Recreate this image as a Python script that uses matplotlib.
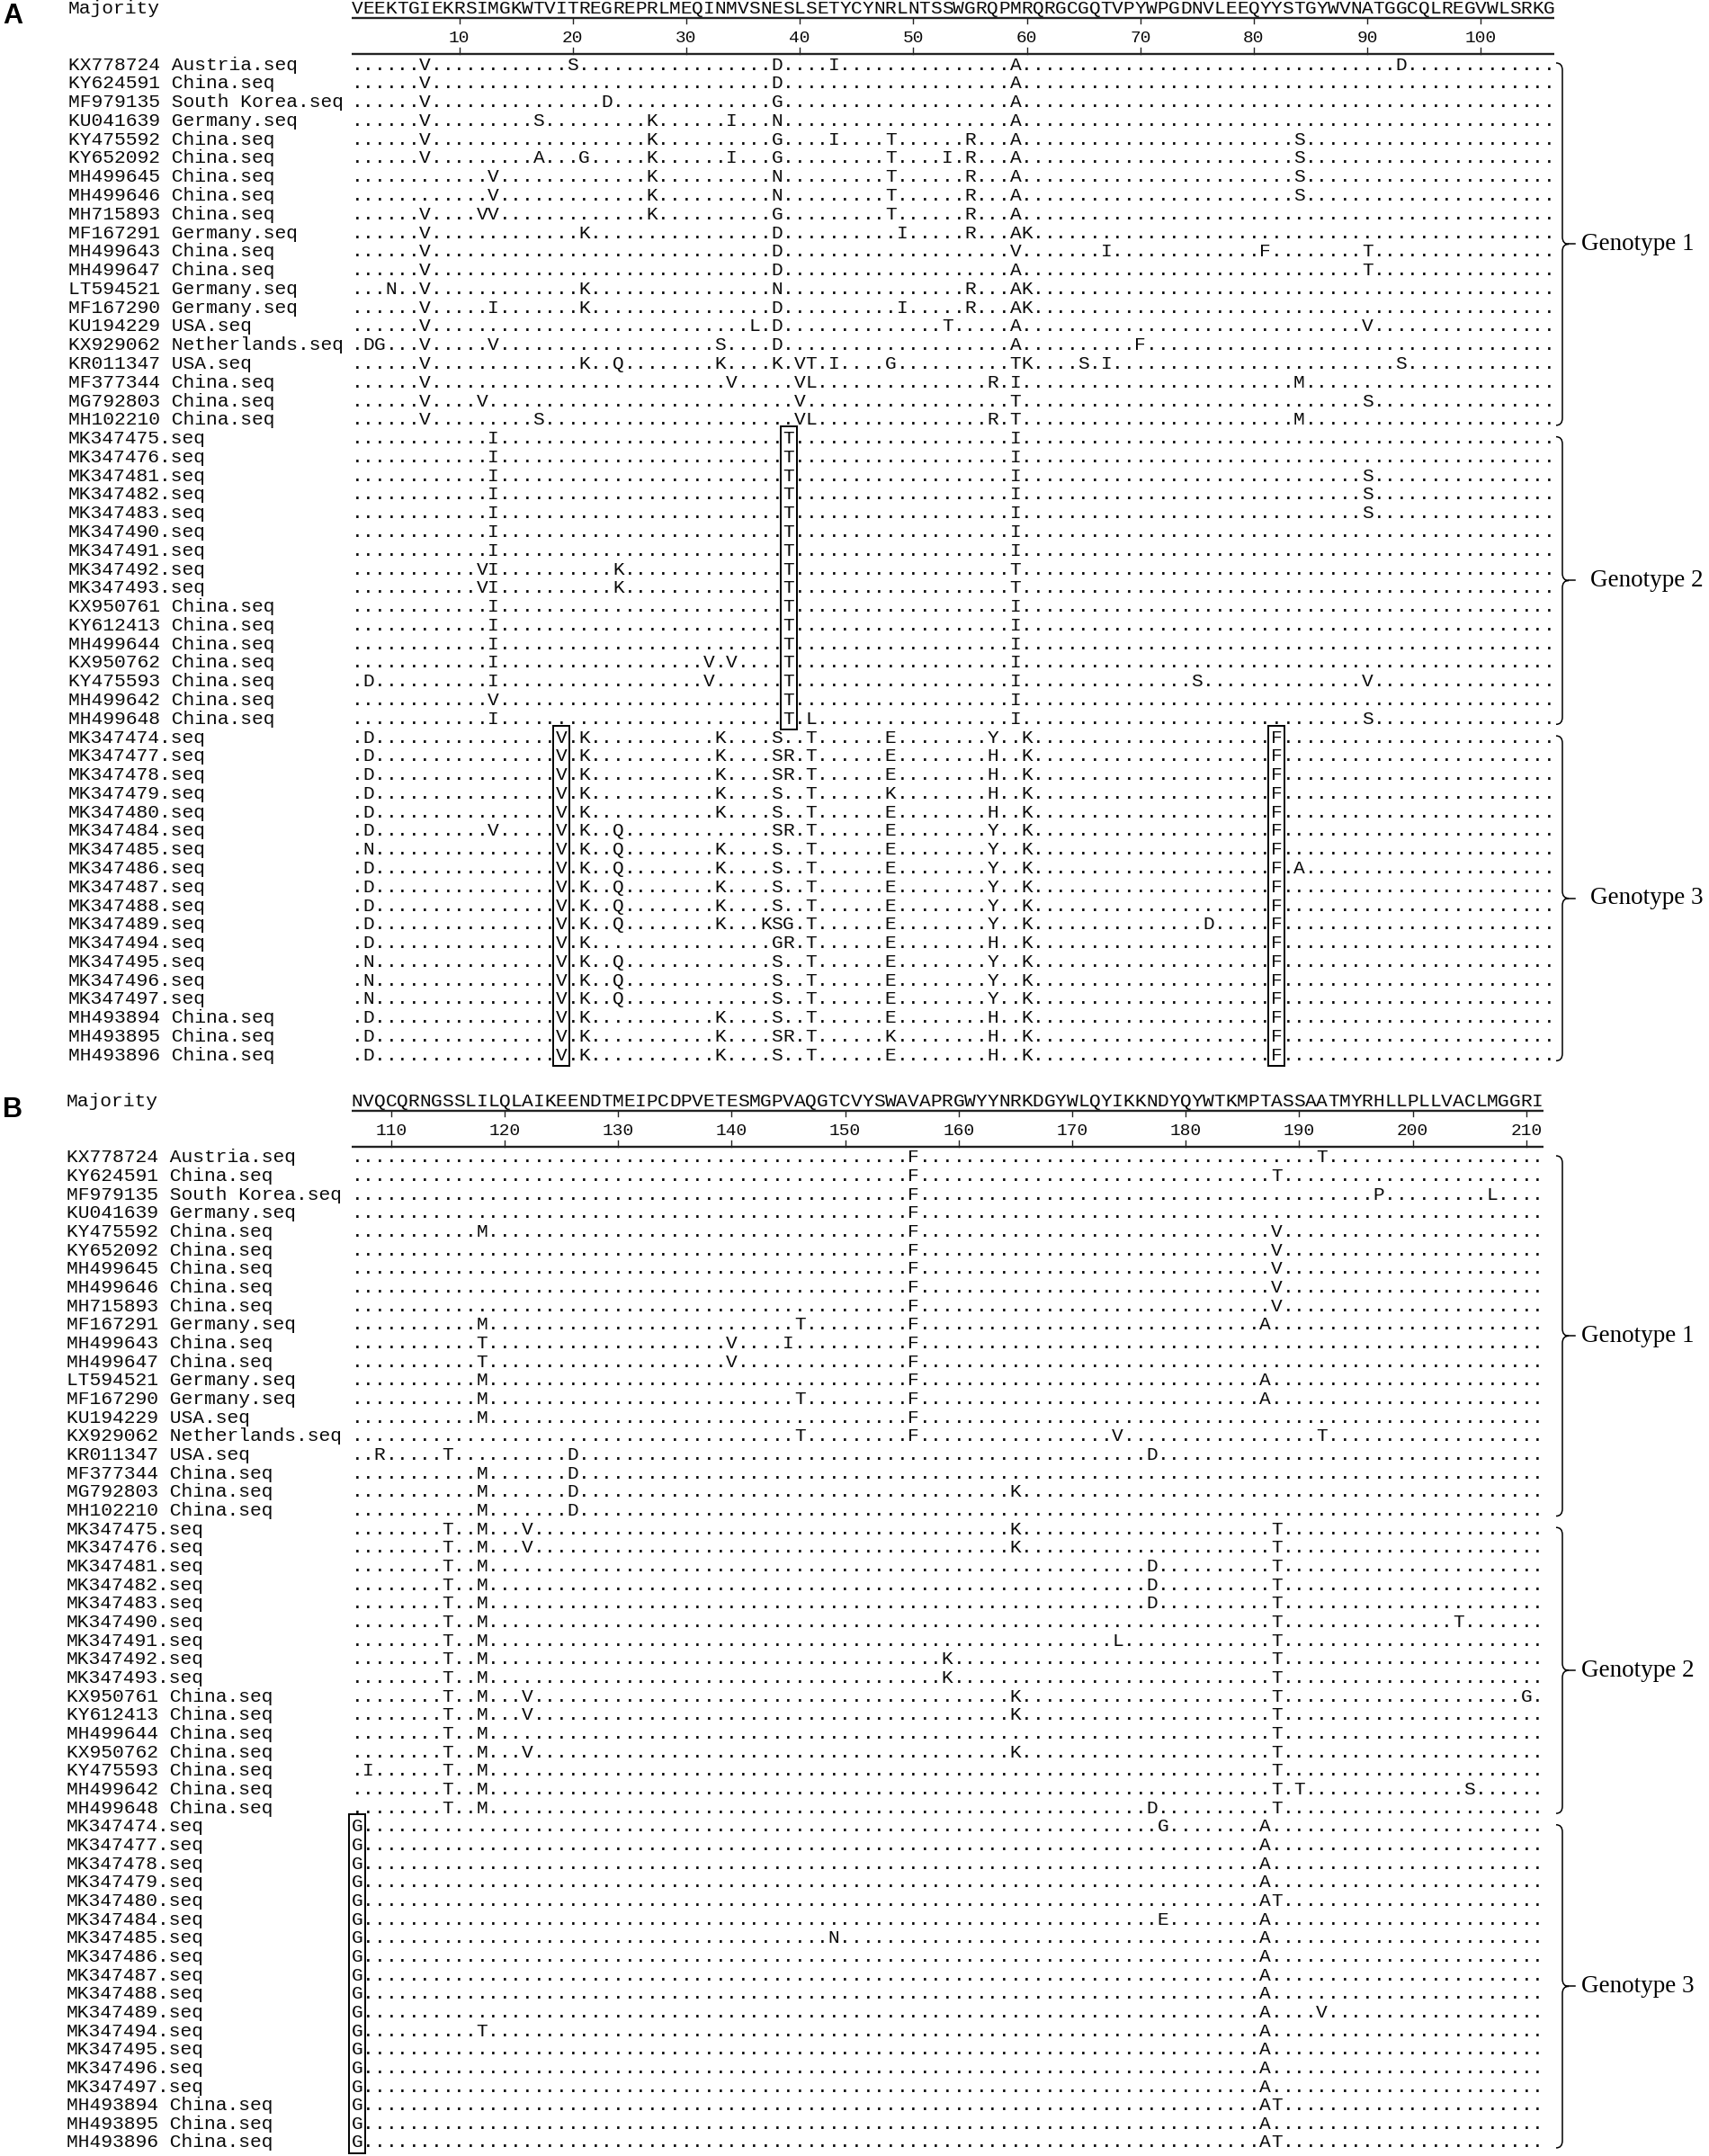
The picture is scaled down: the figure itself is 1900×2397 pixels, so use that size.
import matplotlib
matplotlib.use('Agg')
import matplotlib.pyplot as plt
from matplotlib.path import Path
from matplotlib.patches import PathPatch, Rectangle

# ---------------- data ----------------
names = [
    "KX778724 Austria.seq", "KY624591 China.seq", "MF979135 South Korea.seq",
    "KU041639 Germany.seq", "KY475592 China.seq", "KY652092 China.seq",
    "MH499645 China.seq", "MH499646 China.seq", "MH715893 China.seq",
    "MF167291 Germany.seq", "MH499643 China.seq", "MH499647 China.seq",
    "LT594521 Germany.seq", "MF167290 Germany.seq", "KU194229 USA.seq",
    "KX929062 Netherlands.seq", "KR011347 USA.seq", "MF377344 China.seq",
    "MG792803 China.seq", "MH102210 China.seq",
    "MK347475.seq", "MK347476.seq", "MK347481.seq", "MK347482.seq",
    "MK347483.seq", "MK347490.seq", "MK347491.seq", "MK347492.seq",
    "MK347493.seq", "KX950761 China.seq", "KY612413 China.seq",
    "MH499644 China.seq", "KX950762 China.seq", "KY475593 China.seq",
    "MH499642 China.seq", "MH499648 China.seq",
    "MK347474.seq", "MK347477.seq", "MK347478.seq", "MK347479.seq",
    "MK347480.seq", "MK347484.seq", "MK347485.seq", "MK347486.seq",
    "MK347487.seq", "MK347488.seq", "MK347489.seq", "MK347494.seq",
    "MK347495.seq", "MK347496.seq", "MK347497.seq",
    "MH493894 China.seq", "MH493895 China.seq", "MH493896 China.seq",
]
genotype_sizes = [20, 16, 18]
genotype_labels = ["Genotype 1", "Genotype 2", "Genotype 3"]

# panel A: residues 1-106
majority_a = ("VEEKTGIEKRSIMGKWTVITREGREPRLMEQINMVSNESLSETYCYNRLNTSSWGRQPMR"
              "QRGCGQTVPYWPGDNVLEEQYYSTGYWVNATGGCQLREGVWLSRKG")
start_a = 1
ticks_a = [10, 20, 30, 40, 50, 60, 70, 80, 90, 100]
# differences from majority: "<position><residue>"
var_a = [
    "7V 20S 38D 43I 59A 93D",
    "7V 38D 59A",
    "7V 23D 38G 59A",
    "7V 17S 27K 34I 38N 59A",
    "7V 27K 38G 43I 48T 55R 59A 84S",
    "7V 17A 21G 27K 34I 38G 48T 53I 55R 59A 84S",
    "13V 27K 38N 48T 55R 59A 84S",
    "13V 27K 38N 48T 55R 59A 84S",
    "7V 12V 13V 27K 38G 48T 55R 59A",
    "7V 21K 38D 49I 55R 59A 60K",
    "7V 38D 59V 67I 81F 90T",
    "7V 38D 59A 90T",
    "4N 7V 21K 38N 55R 59A 60K",
    "7V 13I 21K 38D 49I 55R 59A 60K",
    "7V 36L 38D 53T 59A 90V",
    "2D 3G 7V 13V 33S 38D 59A 70F",
    "7V 21K 24Q 33K 38K 40V 41T 43I 48G 59T 60K 65S 67I 93S",
    "7V 34V 40V 41L 57R 59I 84M",
    "7V 12V 40V 59T 90S",
    "7V 17S 40V 41L 57R 59T 84M",
    "13I 39T 59I",
    "13I 39T 59I",
    "13I 39T 59I 90S",
    "13I 39T 59I 90S",
    "13I 39T 59I 90S",
    "13I 39T 59I",
    "13I 39T 59I",
    "12V 13I 24K 39T 59T",
    "12V 13I 24K 39T 59T",
    "13I 39T 59I",
    "13I 39T 59I",
    "13I 39T 59I",
    "13I 32V 34V 39T 59I",
    "2D 13I 32V 39T 59I 75S 90V",
    "13V 39T 59I",
    "13I 39T 41L 59I 90S",
    "2D 19V 21K 33K 38S 41T 48E 57Y 60K 82F",
    "2D 19V 21K 33K 38S 39R 41T 48E 57H 60K 82F",
    "2D 19V 21K 33K 38S 39R 41T 48E 57H 60K 82F",
    "2D 19V 21K 33K 38S 41T 48K 57H 60K 82F",
    "2D 19V 21K 33K 38S 41T 48E 57H 60K 82F",
    "2D 13V 19V 21K 24Q 38S 39R 41T 48E 57Y 60K 82F",
    "2N 19V 21K 24Q 33K 38S 41T 48E 57Y 60K 82F",
    "2D 19V 21K 24Q 33K 38S 41T 48E 57Y 60K 82F 84A",
    "2D 19V 21K 24Q 33K 38S 41T 48E 57Y 60K 82F",
    "2D 19V 21K 24Q 33K 38S 41T 48E 57Y 60K 82F",
    "2D 19V 21K 24Q 33K 37K 38S 39G 41T 48E 57Y 60K 76D 82F",
    "2D 19V 21K 38G 39R 41T 48E 57H 60K 82F",
    "2N 19V 21K 24Q 38S 41T 48E 57Y 60K 82F",
    "2N 19V 21K 24Q 38S 41T 48E 57Y 60K 82F",
    "2N 19V 21K 24Q 38S 41T 48E 57Y 60K 82F",
    "2D 19V 21K 33K 38S 41T 48E 57H 60K 82F",
    "2D 19V 21K 33K 38S 39R 41T 48K 57H 60K 82F",
    "2D 19V 21K 33K 38S 41T 48E 57H 60K 82F",
]
boxes_a = [(39, 1), (19, 2), (82, 2)]  # (position, genotype index)

# panel B: residues 107-211
majority_b = ("NVQCQRNGSSLILQLAIKEENDTMEIPCDPVETESMGPVAQGTCVYSWAVAPRGWYYNRK"
              "DGYWLQYIKKNDYQYWTKMPTASSAATMYRHLLPLLVACLMGGRI")
start_b = 107
ticks_b = [110, 120, 130, 140, 150, 160, 170, 180, 190, 200, 210]
var_b = [
    "156F 192T",
    "156F 188T",
    "156F 197P 207L",
    "156F",
    "118M 156F 188V",
    "156F 188V",
    "156F 188V",
    "156F 188V",
    "156F 188V",
    "118M 146T 156F 187A",
    "118T 140V 145I 156F",
    "118T 140V 156F",
    "118M 156F 187A",
    "118M 146T 156F 187A",
    "118M 156F",
    "146T 156F 174V 192T",
    "109R 115T 126D 177D",
    "118M 126D",
    "118M 126D 165K",
    "118M 126D",
    "115T 118M 122V 165K 188T",
    "115T 118M 122V 165K 188T",
    "115T 118M 177D 188T",
    "115T 118M 177D 188T",
    "115T 118M 177D 188T",
    "115T 118M 188T 204T",
    "115T 118M 174L 188T",
    "115T 118M 159K 188T",
    "115T 118M 159K 188T",
    "115T 118M 122V 165K 188T 210G",
    "115T 118M 122V 165K 188T",
    "115T 118M 188T",
    "115T 118M 122V 165K 188T",
    "108I 115T 118M 188T",
    "115T 118M 188T 190T 205S",
    "115T 118M 177D 188T",
    "107G 178G 187A",
    "107G 187A",
    "107G 187A",
    "107G 187A",
    "107G 187A 188T",
    "107G 178E 187A",
    "107G 149N 187A",
    "107G 187A",
    "107G 187A",
    "107G 187A",
    "107G 187A 192V",
    "107G 118T 187A",
    "107G 187A",
    "107G 187A",
    "107G 187A",
    "107G 187A 188T",
    "107G 187A",
    "107G 187A 188T",
]
boxes_b = [(107, 2)]

# ---------------- layout ----------------
W, H = 1900, 2397
MONO = "Liberation Mono"
FS = 15.3
INK = "#0a0a0a"
COL0 = 397.0      # centre of first alignment column (px)
PITCH = 12.62     # px per residue
BRACE_X = 1737


def expand(var, n, start):
    row = ["."] * n
    for tok in var.split():
        row[int(tok[:-1]) - start] = tok[-1]
    return row


def col_x(i):
    return COL0 + i * PITCH


def put_chars(ax, chars, yc, **kw):
    for i, ch in enumerate(chars):
        ax.text(col_x(i), yc + 5.5, ch, ha="center", va="baseline",
                family=MONO, fontsize=FS, color=INK, **kw)


def brace(ax, x, y0, y1, w=7, r=8, dash=7):
    ym = (y0 + y1) / 2
    verts = [(x - w, y0), (x, y0), (x, y0 + r), (x, ym - r), (x, ym), (x + w, ym),
             (x, ym), (x, ym + r), (x, y1 - r), (x, y1), (x - w, y1)]
    codes = [Path.MOVETO, Path.CURVE3, Path.CURVE3, Path.LINETO, Path.CURVE3, Path.CURVE3,
             Path.CURVE3, Path.CURVE3, Path.LINETO, Path.CURVE3, Path.CURVE3]
    ax.add_patch(PathPatch(Path(verts, codes), fill=False, lw=1.1, color="black"))
    ax.plot([x + w, x + w + dash], [ym, ym], color="black", lw=1.1)
    return ym


def draw_panel(ax, letter, top, row_pitch, majority, start, ticks, variants,
               boxes, name_x, label_x):
    n = len(majority)
    ax.text(3, top + 9, letter, ha="left", va="center", family="Liberation Sans",
            weight="bold", fontsize=22, color="black")
    ax.text(name_x, top + 5.5, "Majority", ha="left", va="baseline",
            family=MONO, fontsize=FS, color=INK)
    put_chars(ax, majority, top)

    # ruler
    x_l, x_r = col_x(0) - PITCH / 2, col_x(n - 1) + PITCH / 2
    y_t, y_b = top + 10, top + 50
    ax.plot([x_l, x_r], [y_t, y_t], color="#222222", lw=1.7, solid_capstyle="butt")
    ax.plot([x_l, x_r], [y_b, y_b], color="#222222", lw=1.7, solid_capstyle="butt")
    for t in ticks:
        x = col_x(t - start)
        ax.plot([x, x], [y_t, y_t + 6], color="#222222", lw=1.0)
        ax.plot([x, x], [y_b - 7, y_b], color="#222222", lw=1.0)
        ax.text(x, top + 33, str(t), ha="center", va="center", family=MONO,
                fontsize=14, color=INK)

    # rows
    y0 = top + 62.5
    ys = [y0 + k * row_pitch for k in range(len(names))]
    for k, (nm, var) in enumerate(zip(names, variants)):
        ax.text(name_x, ys[k] + 5.5, nm, ha="left", va="baseline",
                family=MONO, fontsize=FS, color=INK)
        put_chars(ax, expand(var, n, start), ys[k])

    # genotype braces and labels
    first = 0
    bounds = []
    for g, size in enumerate(genotype_sizes):
        ya, yb = ys[first], ys[first + size - 1]
        bounds.append((ya, yb))
        ym = brace(ax, BRACE_X, ya - 2, yb + 6)
        ax.text(label_x[g], ym, genotype_labels[g], ha="left", va="center",
                family="Liberation Serif", fontsize=19.5, color="black")
        first += size

    # highlighted columns
    for pos, g in boxes:
        ya, yb = bounds[g]
        x = col_x(pos - start)
        ax.add_patch(Rectangle((x - 9, ya - 13.5), 18, (yb + 12) - (ya - 13.5),
                               fill=False, lw=1.4, edgecolor="black"))


fig = plt.figure(figsize=(W / 100, H / 100), dpi=100)
ax = fig.add_axes([0, 0, 1, 1])
ax.set_xlim(0, W)
ax.set_ylim(H, 0)
ax.axis("off")

draw_panel(ax, "A", 9.5, 20.78, majority_a, start_a, ticks_a, var_a, boxes_a,
           76, [1758, 1768, 1768])
draw_panel(ax, "B", 1224.5, 20.66, majority_b, start_b, ticks_b, var_b, boxes_b,
           74, [1758, 1758, 1758])

fig.savefig("out.png", dpi=100, facecolor="white")
